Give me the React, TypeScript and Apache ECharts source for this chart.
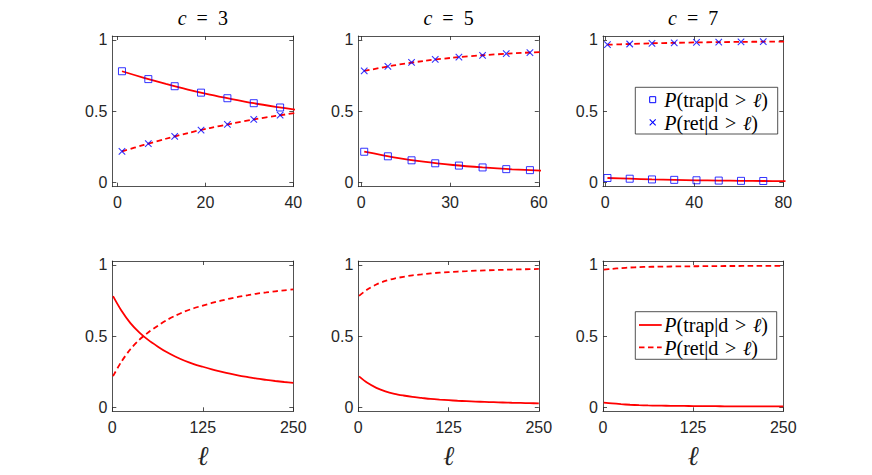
import React, { useEffect, useRef } from "react";
import * as echarts from "echarts";

// ---------- data ----------
const titles = ["3", "5", "7"];

// top row: markers
const mkX3 = [1, 7, 13, 19, 25, 31, 37];
const mkTrap3 = [0.781, 0.726, 0.676, 0.631, 0.592, 0.557, 0.527];
const mkRet3 = [0.219, 0.274, 0.324, 0.369, 0.408, 0.443, 0.473];
const mkX5 = [1, 9, 17, 25, 33, 41, 49, 57];
const mkTrap5 = [0.217, 0.185, 0.157, 0.136, 0.12, 0.107, 0.095, 0.088];
const mkRet5 = [0.783, 0.815, 0.843, 0.864, 0.88, 0.893, 0.905, 0.912];
const mkX7 = [1, 11, 21, 31, 41, 51, 61, 71];
const mkTrap7 = [0.033, 0.028, 0.023, 0.02, 0.017, 0.015, 0.013, 0.012];
const mkRet7 = [0.967, 0.972, 0.977, 0.98, 0.983, 0.985, 0.987, 0.988];

// top row: lines
const lnX3 = [1, 6, 11, 16, 21, 26, 31, 36, 41];
const lnTrap3 = [0.781, 0.735, 0.692, 0.652, 0.617, 0.586, 0.557, 0.532, 0.509];
const lnRet3 = [0.219, 0.265, 0.308, 0.348, 0.383, 0.414, 0.443, 0.468, 0.491];
const lnX5 = [1, 11, 21, 31, 41, 51, 61];
const lnTrap5 = [0.217, 0.178, 0.147, 0.124, 0.107, 0.094, 0.084];
const lnRet5 = [0.783, 0.822, 0.853, 0.876, 0.893, 0.906, 0.916];
const lnX7 = [1, 11, 21, 31, 41, 51, 61, 71, 81];
const lnTrap7 = [0.033, 0.028, 0.023, 0.02, 0.017, 0.015, 0.013, 0.012, 0.011];
const lnRet7 = [0.967, 0.972, 0.977, 0.98, 0.983, 0.985, 0.987, 0.988, 0.989];

// bottom row: long curves
const longX = [1, 12.5, 25, 37.5, 50, 62.5, 75, 87.5, 100, 112.5, 125, 137.5, 150, 162.5, 175, 187.5, 200, 212.5, 225, 237.5, 250];
const longTrap3 = [0.781, 0.68, 0.592, 0.525, 0.472, 0.428, 0.388, 0.355, 0.327, 0.304, 0.285, 0.267, 0.251, 0.236, 0.223, 0.212, 0.201, 0.193, 0.185, 0.178, 0.172];
const longRet3 = [0.219, 0.32, 0.408, 0.475, 0.528, 0.572, 0.612, 0.645, 0.673, 0.696, 0.715, 0.733, 0.749, 0.764, 0.777, 0.788, 0.799, 0.807, 0.815, 0.822, 0.828];
const longTrap5 = [0.217, 0.172, 0.137, 0.112, 0.095, 0.083, 0.073, 0.066, 0.059, 0.054, 0.05, 0.046, 0.043, 0.04, 0.038, 0.036, 0.034, 0.032, 0.031, 0.029, 0.028];
const longRet5 = [0.783, 0.828, 0.863, 0.888, 0.905, 0.917, 0.927, 0.934, 0.941, 0.946, 0.95, 0.954, 0.957, 0.96, 0.962, 0.964, 0.966, 0.968, 0.969, 0.971, 0.972];
const longTrap7 = [0.033, 0.027, 0.022, 0.018, 0.015, 0.013, 0.012, 0.011, 0.01, 0.0095, 0.009, 0.0085, 0.008, 0.0075, 0.007, 0.007, 0.0065, 0.0065, 0.006, 0.006, 0.006];
const longRet7 = [0.967, 0.973, 0.978, 0.982, 0.985, 0.987, 0.988, 0.989, 0.99, 0.9905, 0.991, 0.9915, 0.992, 0.9925, 0.993, 0.993, 0.9935, 0.9935, 0.994, 0.994, 0.994];

// ticks
const xTicksTop = [
  [0, 20, 40],
  [0, 30, 60],
  [0, 40, 80],
];
const xMinTop = [-1.2, -1, -1];
const xTicksBottom = [0, 125, 250];
const yTicks = [0, 0.5, 1];

const legendTrap = "{i|P}{n|(trap|d\u2004>\u2004}{i|\u2113}{n|)}";
const legendRet = "{i|P}{n|(ret|d\u2004>\u2004}{i|\u2113}{n|)}";

// ---------- layout / style ----------
const AX = "#262626";
const RED = "#ff0000";
const BLUE = "#0000ff";
const SANS = "Liberation Sans, Arial, Helvetica, sans-serif";
const SERIF = "Liberation Serif, DejaVu Serif, Times New Roman, serif";
const colLeft = [112.3, 358.3, 603];
const colWidth = [181, 180.5, 180.3];
const rowTop = [36, 261];
const rowHeight = [150.7, 150.3];
const Y_MIN = -0.028;
const Y_MAX = 1.028;
const DASH = [5.5, 3.5];

const zip = (xs: number[], ys: number[]) => xs.map((x, i) => [x, ys[i]]);

const richStyle = {
  i: { fontFamily: SERIF, fontStyle: "italic", fontSize: 20, color: "#000" },
  n: { fontFamily: SERIF, fontSize: 20, color: "#000" },
};

function buildOption() {
  const grid: any[] = [];
  const xAxis: any[] = [];
  const yAxis: any[] = [];
  const series: any[] = [];
  const graphic: any[] = [];

  const lineStyleAx = { color: AX, width: 0.8 };

  for (let r = 0; r < 2; r++) {
    for (let c = 0; c < 3; c++) {
      const gi = r * 3 + c;
      grid.push({
        left: colLeft[c],
        top: rowTop[r],
        width: colWidth[c],
        height: rowHeight[r],
        containLabel: false,
      });
      const xmin = r === 0 ? xMinTop[c] : 0;
      const xmax = r === 0 ? xTicksTop[c][2] : 250;
      const xt = r === 0 ? xTicksTop[c] : xTicksBottom;
      xAxis.push({
        type: "value",
        gridIndex: gi,
        position: "bottom",
        min: xmin,
        max: xmax,
        axisLine: { show: true, onZero: false, lineStyle: lineStyleAx },
        axisTick: { show: true, inside: true, length: 4, customValues: xt, lineStyle: lineStyleAx },
        axisLabel: { show: true, customValues: xt, margin: 8, color: AX, fontSize: 16, fontFamily: SANS },
        splitLine: { show: false },
        name: r === 1 ? "\u2113" : "",
        nameLocation: "middle",
        nameGap: 45,
        nameTextStyle: {
          fontFamily: "Liberation Serif, serif",
          fontStyle: "italic",
          fontWeight: "normal",
          fontSize: 27,
          color: AX,
          verticalAlign: "middle",
        },
      });
      xAxis.push({
        type: "value",
        gridIndex: gi,
        position: "top",
        min: xmin,
        max: xmax,
        axisLine: { show: true, onZero: false, lineStyle: lineStyleAx },
        axisTick: { show: true, inside: true, length: 4, customValues: xt, lineStyle: lineStyleAx },
        axisLabel: { show: false },
        splitLine: { show: false },
      });
      yAxis.push({
        type: "value",
        gridIndex: gi,
        position: "left",
        min: Y_MIN,
        max: Y_MAX,
        axisLine: { show: true, onZero: false, lineStyle: lineStyleAx },
        axisTick: { show: true, inside: true, length: 4, customValues: yTicks, lineStyle: lineStyleAx },
        axisLabel: { show: true, customValues: yTicks, margin: 5, color: AX, fontSize: 16, fontFamily: SANS },
        splitLine: { show: false },
      });
      yAxis.push({
        type: "value",
        gridIndex: gi,
        position: "right",
        min: Y_MIN,
        max: Y_MAX,
        axisLine: { show: true, onZero: false, lineStyle: lineStyleAx },
        axisTick: { show: true, inside: true, length: 4, customValues: yTicks, lineStyle: lineStyleAx },
        axisLabel: { show: false },
        splitLine: { show: false },
      });
    }
  }

  const topLines = [
    [lnX3, lnTrap3, lnRet3],
    [lnX5, lnTrap5, lnRet5],
    [lnX7, lnTrap7, lnRet7],
  ];
  const topMarks = [
    [mkX3, mkTrap3, mkRet3],
    [mkX5, mkTrap5, mkRet5],
    [mkX7, mkTrap7, mkRet7],
  ];
  const bottomLines = [
    [longTrap3, longRet3],
    [longTrap5, longRet5],
    [longTrap7, longRet7],
  ];

  const lineSeries = (gi: number, data: number[][], dashed: boolean, name: string) => ({
    type: "line",
    name,
    xAxisIndex: gi * 2,
    yAxisIndex: gi * 2,
    data,
    symbol: "none",
    smooth: 0.3,
    lineStyle: { color: RED, width: 1.8, type: dashed ? DASH : "solid" },
    itemStyle: { color: RED },
    z: 2,
    silent: true,
  });

  for (let c = 0; c < 3; c++) {
    const gi = c;
    const [lx, lt, lr] = topLines[c];
    series.push(lineSeries(gi, zip(lx, lt), false, "trap line c" + titles[c]));
    series.push(lineSeries(gi, zip(lx, lr), true, "ret line c" + titles[c]));
    const [mx, mt, mr] = topMarks[c];
    series.push({
      type: "scatter",
      name: "trap c" + titles[c],
      xAxisIndex: gi * 2,
      yAxisIndex: gi * 2,
      data: zip(mx, mt),
      symbol: "rect",
      symbolSize: 7,
      itemStyle: { color: "transparent", borderColor: BLUE, borderWidth: 1 },
      z: 3,
      silent: true,
    });
    series.push({
      type: "scatter",
      name: "ret c" + titles[c],
      xAxisIndex: gi * 2,
      yAxisIndex: gi * 2,
      data: zip(mx, mr),
      symbol: "path://M0,0L10,10M10,0L0,10",
      symbolSize: 6.5,
      itemStyle: { color: "transparent", borderColor: BLUE, borderWidth: 1.1 },
      z: 3,
      silent: true,
    });
    const gb = 3 + c;
    const [bt, br] = bottomLines[c];
    series.push(lineSeries(gb, zip(longX, bt), false, "trap long c" + titles[c]));
    series.push(lineSeries(gb, zip(longX, br), true, "ret long c" + titles[c]));

    // titles
    graphic.push({
      type: "text",
      x: colLeft[c] + colWidth[c] / 2,
      y: 18,
      style: {
        text: "{i|c}{n|\u2002=\u2002" + titles[c] + "}",
        align: "center",
        verticalAlign: "middle",
        rich: {
          i: { fontFamily: SERIF, fontStyle: "italic", fontSize: 20, color: "#000" },
          n: { fontFamily: SERIF, fontSize: 20, color: "#000" },
        },
      },
    });
  }

  // legend top-right (markers)
  graphic.push(
    {
      type: "rect",
      z: 100,
      shape: { x: 635.3, y: 87.3, width: 142.4, height: 46.7 },
      style: { fill: "#fff", stroke: AX, lineWidth: 0.8 },
    },
    {
      type: "rect",
      z: 101,
      shape: { x: 649.7, y: 96.7, width: 6, height: 6 },
      style: { fill: "none", stroke: BLUE, lineWidth: 1 },
    },
    {
      type: "line",
      z: 101,
      shape: { x1: 649.7, y1: 119.3, x2: 655.7, y2: 125.3 },
      style: { stroke: BLUE, lineWidth: 1.1 },
    },
    {
      type: "line",
      z: 101,
      shape: { x1: 655.7, y1: 119.3, x2: 649.7, y2: 125.3 },
      style: { stroke: BLUE, lineWidth: 1.1 },
    },
    {
      type: "text",
      z: 101,
      x: 664.3,
      y: 100.3,
      style: { text: legendTrap, verticalAlign: "middle", align: "left", rich: richStyle },
    },
    {
      type: "text",
      z: 101,
      x: 664.3,
      y: 122.6,
      style: { text: legendRet, verticalAlign: "middle", align: "left", rich: richStyle },
    }
  );

  // legend bottom-right (lines)
  graphic.push(
    {
      type: "rect",
      z: 100,
      shape: { x: 635.3, y: 311.7, width: 141.4, height: 47.6 },
      style: { fill: "#fff", stroke: AX, lineWidth: 0.8 },
    },
    {
      type: "line",
      z: 101,
      shape: { x1: 639, y1: 325, x2: 661.7, y2: 325 },
      style: { stroke: RED, lineWidth: 1.8 },
    },
    {
      type: "line",
      z: 101,
      shape: { x1: 639, y1: 347.3, x2: 661.7, y2: 347.3 },
      style: { stroke: RED, lineWidth: 1.8, lineDash: DASH },
    },
    {
      type: "text",
      z: 101,
      x: 664.3,
      y: 325.3,
      style: { text: legendTrap, verticalAlign: "middle", align: "left", rich: richStyle },
    },
    {
      type: "text",
      z: 101,
      x: 664.3,
      y: 347.8,
      style: { text: legendRet, verticalAlign: "middle", align: "left", rich: richStyle },
    }
  );

  return {
    animation: false,
    backgroundColor: "#ffffff",
    grid,
    xAxis,
    yAxis,
    series,
    graphic,
  };
}

export default function App() {
  const ref = useRef<HTMLDivElement>(null);
  useEffect(() => {
    if (!ref.current) return;
    const chart = echarts.init(ref.current, undefined, { renderer: "svg" });
    chart.setOption(buildOption() as any);
    return () => chart.dispose();
  }, []);
  return (
    <div
      ref={ref}
      style={{ position: "absolute", left: 0, top: 0, width: 872, height: 475, background: "#fff" }}
    />
  );
}
